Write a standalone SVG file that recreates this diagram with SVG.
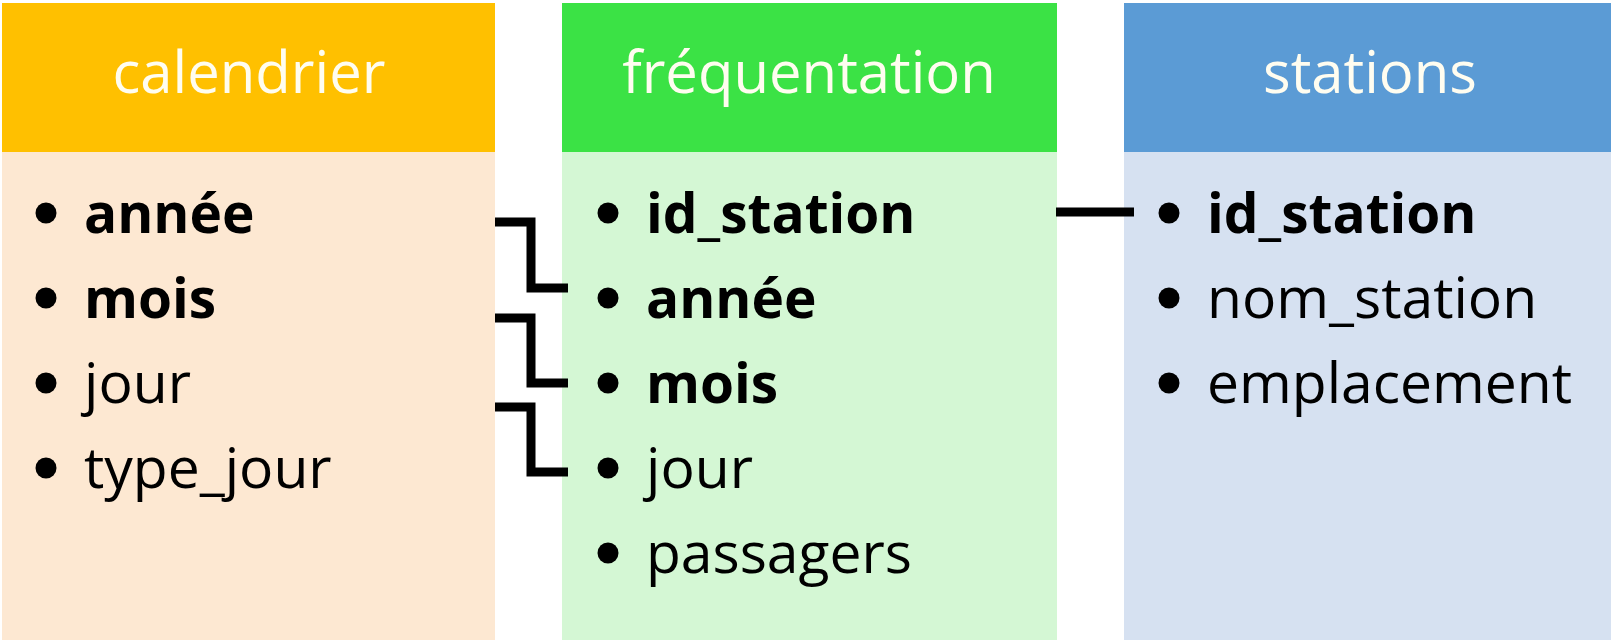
<svg xmlns="http://www.w3.org/2000/svg" width="1611" height="640" viewBox="0 0 1611 640">
<style>
.title{font-family:"Open Sans","Liberation Sans",sans-serif;font-size:58px;fill:#fffdf0;text-anchor:middle}
.item{font-family:"Open Sans","Liberation Sans",sans-serif;font-size:57px;fill:#000}
.key{font-weight:bold;font-size:55px}
.bullet{fill:#000}
.conn{fill:none;stroke:#000;stroke-width:9;stroke-linejoin:miter;stroke-linecap:butt}
</style>
<rect width="1611" height="640" fill="#fff"/>
<g id="calendrier">
<rect x="2" y="3" width="493" height="149" fill="#ffc000"/>
<rect x="2" y="152" width="493" height="488" fill="#fde8d2"/>
<text class="title" x="249" y="93">calendrier</text>
<circle class="bullet" cx="46" cy="213" r="10.5"/>
<circle class="bullet" cx="46" cy="298" r="10.5"/>
<circle class="bullet" cx="46" cy="383" r="10.5"/>
<circle class="bullet" cx="46" cy="468" r="10.5"/>
<text class="item key" x="84" y="233">année</text>
<text class="item key" x="84" y="318">mois</text>
<text class="item" x="84" y="403">jour</text>
<text class="item" x="84" y="488">type_jour</text>
</g>
<g id="frequentation">
<rect x="562" y="3" width="495" height="149" fill="#3be245"/>
<rect x="562" y="152" width="495" height="488" fill="#d4f7d4"/>
<text class="title" x="809" y="93">fréquentation</text>
<circle class="bullet" cx="608" cy="213" r="10.5"/>
<circle class="bullet" cx="608" cy="298" r="10.5"/>
<circle class="bullet" cx="608" cy="383" r="10.5"/>
<circle class="bullet" cx="608" cy="468" r="10.5"/>
<circle class="bullet" cx="608" cy="553" r="10.5"/>
<text class="item key" x="646" y="233">id_station</text>
<text class="item key" x="646" y="318">année</text>
<text class="item key" x="646" y="403">mois</text>
<text class="item" x="646" y="488">jour</text>
<text class="item" x="646" y="573">passagers</text>
</g>
<g id="stations">
<rect x="1124" y="3" width="487" height="149" fill="#5b9bd5"/>
<rect x="1124" y="152" width="487" height="488" fill="#d6e1f1"/>
<text class="title" x="1370" y="93">stations</text>
<circle class="bullet" cx="1169" cy="213" r="10.5"/>
<circle class="bullet" cx="1169" cy="298" r="10.5"/>
<circle class="bullet" cx="1169" cy="383" r="10.5"/>
<text class="item key" x="1207" y="233">id_station</text>
<text class="item" x="1207" y="318">nom_station</text>
<text class="item" x="1207" y="403">emplacement</text>
</g>
<g id="connectors">
<polyline class="conn" points="495,222 531,222 531,288 568,288"/>
<polyline class="conn" points="495,318 531,318 531,383 568,383"/>
<polyline class="conn" points="495,407 531,407 531,472 568,472"/>
<polyline class="conn" points="1056,212 1134,212"/>
</g>
</svg>
